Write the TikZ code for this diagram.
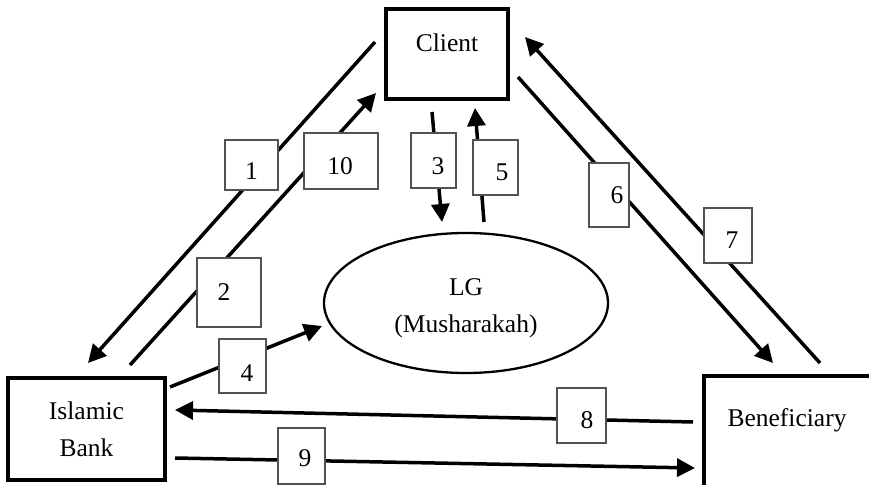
\documentclass[tikz,border=0pt]{standalone}
\usepackage{fontspec}
\setmainfont{Liberation Serif}
\usetikzlibrary{arrows.meta,shapes.geometric}
\begin{document}
\begin{tikzpicture}[x=1pt,y=-1pt,
  every node/.style={font=\fontsize{25.5}{37}\selectfont, text=black},
  mainbox/.style={draw=black, line width=3.2pt, rectangle, inner sep=0pt, fill=white},
  lgshape/.style={draw=black, line width=2.3pt, ellipse, inner sep=0pt},
  numbox/.style={draw=black!68, line width=1.6pt, rectangle, inner sep=0pt, fill=white},
  conn/.style={draw=black, line width=3.5pt, -{Triangle[length=18pt,width=18pt]}}
]
\clip (0,0) rectangle (869,484);

% parties
\node[mainbox, minimum width=122pt, minimum height=90pt,
      label={[yshift=11pt]center:Client}] (client) at (447,54) {};
\node[mainbox, align=center, minimum width=157pt, minimum height=102pt] (bank) at (86.5,429) {Islamic\\Bank};
\node[mainbox, minimum width=180pt, minimum height=128pt,
      label={[xshift=-7pt, yshift=20pt]center:Beneficiary}] (benef) at (794,440) {};
\node[lgshape, minimum width=284pt, minimum height=140pt,
      label={[align=center, yshift=-5pt]center:LG\\(Musharakah)}] (lg) at (466,303) {};

% connector end points
\coordinate (a1s) at (375,42);  \coordinate (a1e) at (88,363);
\coordinate (a2s) at (130,365); \coordinate (a2e) at (376,93);
\coordinate (a3s) at (432,112); \coordinate (a3e) at (442,222);
\coordinate (a5s) at (484,222); \coordinate (a5e) at (475,108);
\coordinate (a6s) at (518,77);  \coordinate (a6e) at (773,363);
\coordinate (a7s) at (820,363); \coordinate (a7e) at (525,37);
\coordinate (a4s) at (170,387); \coordinate (a4e) at (322,326);
\coordinate (a8s) at (693,422); \coordinate (a8e) at (175,410);
\coordinate (a9s) at (175,458); \coordinate (a9e) at (695,468);

% flows
\draw[conn] (a1s) -- (a1e);
\draw[conn] (a2s) -- (a2e);
\draw[conn] (a3s) -- (a3e);
\draw[conn] (a5s) -- (a5e);
\draw[conn] (a6s) -- (a6e);
\draw[conn] (a7s) -- (a7e);
\draw[conn] (a4s) -- (a4e);
\draw[conn] (a8s) -- (a8e);
\draw[conn] (a9s) -- (a9e);

% step numbers
\node[numbox, minimum width=53pt, minimum height=50pt,
      label={[yshift=-6pt]center:1}] (n1) at (251.5,165) {};
\node[numbox, minimum width=74pt, minimum height=56pt,
      label={[xshift=-1pt, yshift=-5pt]center:10}] (n10) at (341,161) {};
\node[numbox, minimum width=64pt, minimum height=69pt,
      label={[xshift=-5pt]center:2}] (n2) at (229,292.5) {};
\node[numbox, minimum width=45pt, minimum height=55pt,
      label={[xshift=4.5pt, yshift=-6pt]center:3}] (n3) at (433.5,160.5) {};
\node[numbox, minimum width=45pt, minimum height=55pt,
      label={[xshift=6.5pt, yshift=-4.5pt]center:5}] (n5) at (495.5,167.5) {};
\node[numbox, minimum width=40pt, minimum height=64pt,
      label={[xshift=8pt]center:6}] (n6) at (609,195) {};
\node[numbox, minimum width=48pt, minimum height=55pt,
      label={[xshift=4pt, yshift=-4.5pt]center:7}] (n7) at (728,235.5) {};
\node[numbox, minimum width=47pt, minimum height=54pt,
      label={[xshift=4.5pt, yshift=-7pt]center:4}] (n4) at (242.5,366) {};
\node[numbox, minimum width=49pt, minimum height=55pt,
      label={[xshift=5.5pt, yshift=-4.5pt]center:8}] (n8) at (581.5,415.5) {};
\node[numbox, minimum width=47pt, minimum height=56pt,
      label={[xshift=3.5pt, yshift=-2pt]center:9}] (n9) at (301.5,456) {};
\end{tikzpicture}
\end{document}
